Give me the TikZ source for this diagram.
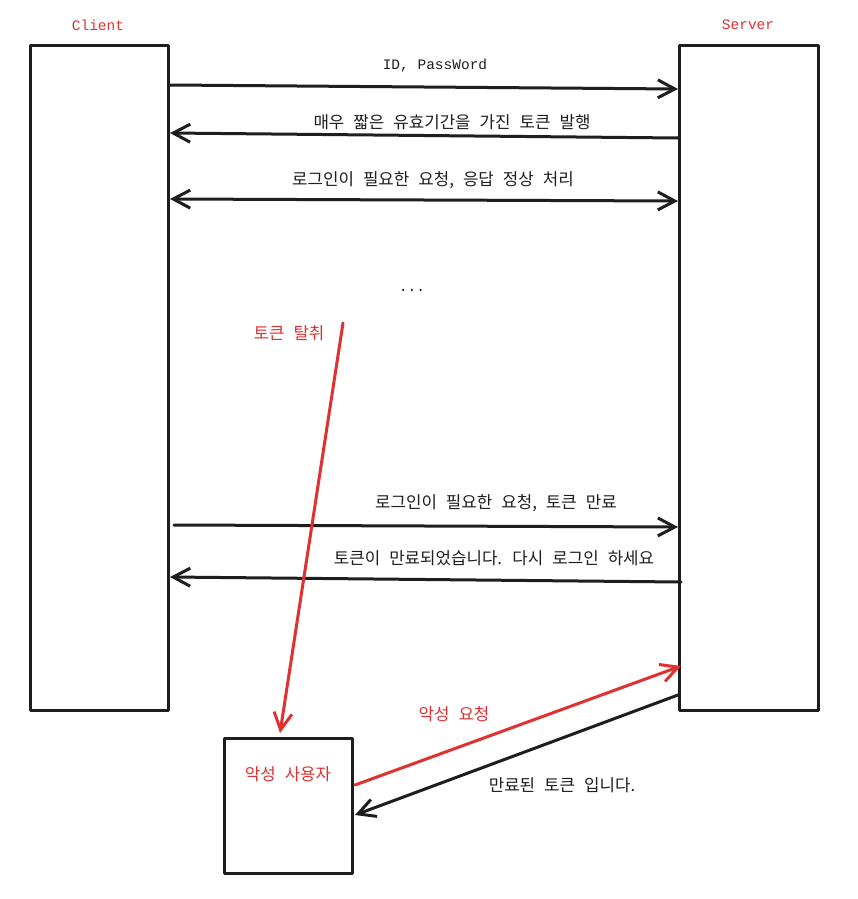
\documentclass[tikz,border=0pt]{standalone}
\usepackage{fontspec}
\setmainfont{Noto Sans CJK KR}[WordSpace=2.4]
\newfontfamily\monofont{Liberation Mono}
\usetikzlibrary{arrows.meta}
\definecolor{ink}{HTML}{1E1E1E}
\definecolor{rd}{HTML}{E03131}
\begin{document}
\begin{tikzpicture}[x=1pt,y=-1pt,
  box/.style={draw=ink, line width=3pt, line join=round, inner sep=0pt, fill=white},
  conn/.style={draw=ink, line width=3pt, line cap=round, -{Straight Barb[length=17pt,width=18pt,line width=3pt]}},
  rconn/.style={conn, draw=rd},
  lbl/.style={font=\fontsize{16.8}{19}\selectfont, text=ink, inner sep=0pt},
  rlbl/.style={lbl, text=rd},
  mlbl/.style={font=\monofont\fontsize{14.5}{17}\selectfont, inner sep=0pt}]
\useasboundingbox (0,0) rectangle (858,899);
\fill[white] (0,0) rectangle (858,899);
% boxes
\node[box, minimum width=138pt, minimum height=664pt] (client) at (99,378) {};
\node[box, minimum width=139pt, minimum height=664pt] (server) at (748.5,378) {};
\node[box, minimum width=128pt, minimum height=135pt] (mal) at (288,805.5) {};
% titles
\node[mlbl, text=rd] (tc) at (98,25) {Client};
\node[mlbl, text=rd] (ts) at (748,25) {Server};
% coordinates
\coordinate (a1s) at (170,85);  \coordinate (a1e) at (678,89);
\coordinate (a2s) at (678,138); \coordinate (a2e) at (170,133);
\coordinate (a3s) at (170,199); \coordinate (a3e) at (678,201);
\coordinate (a4s) at (174,525); \coordinate (a4e) at (678,527);
\coordinate (a5s) at (681,582); \coordinate (a5e) at (170,577);
\coordinate (r1s) at (343,323); \coordinate (r1e) at (280,733);
\coordinate (r2s) at (355,785); \coordinate (r2e) at (681,666);
\coordinate (b1s) at (678,695); \coordinate (b1e) at (355,815);
% connectors
\draw[conn] (a1s) -- (a1e);
\draw[conn] (a2s) -- (a2e);
\draw[conn, {Straight Barb[length=17pt,width=18pt,line width=3pt]}-{Straight Barb[length=17pt,width=18pt,line width=3pt]}] (a3s) -- (a3e);
\draw[conn] (a4s) -- (a4e);
\draw[conn] (a5s) -- (a5e);
\draw[rconn] (r1s) -- (r1e);
\draw[rconn] (r2s) -- (r2e);
\draw[conn] (b1s) -- (b1e);
% labels
\node[mlbl, text=ink] (l1) at (435,66) {ID, PassWord};
\node[lbl] (l2) at (452,122) {매우 짧은 유효기간을 가진 토큰 발행};
\node[lbl] (l3) at (433,180) {로그인이 필요한 요청, 응답 정상 처리};
\node[mlbl, text=ink] (dots) at (412,290) {...};
\node[rlbl] (l4) at (289,333) {토큰 탈취};
\node[lbl] (l5) at (496,503) {로그인이 필요한 요청, 토큰 만료};
\node[lbl] (l6) at (494,558) {토큰이 만료되었습니다. 다시 로그인 하세요};
\node[rlbl] (l7) at (454,714) {악성 요청};
\node[rlbl] (l8) at (288,774) {악성 사용자};
\node[lbl] (l9) at (562,785) {만료된 토큰 입니다.};
\end{tikzpicture}
\end{document}
